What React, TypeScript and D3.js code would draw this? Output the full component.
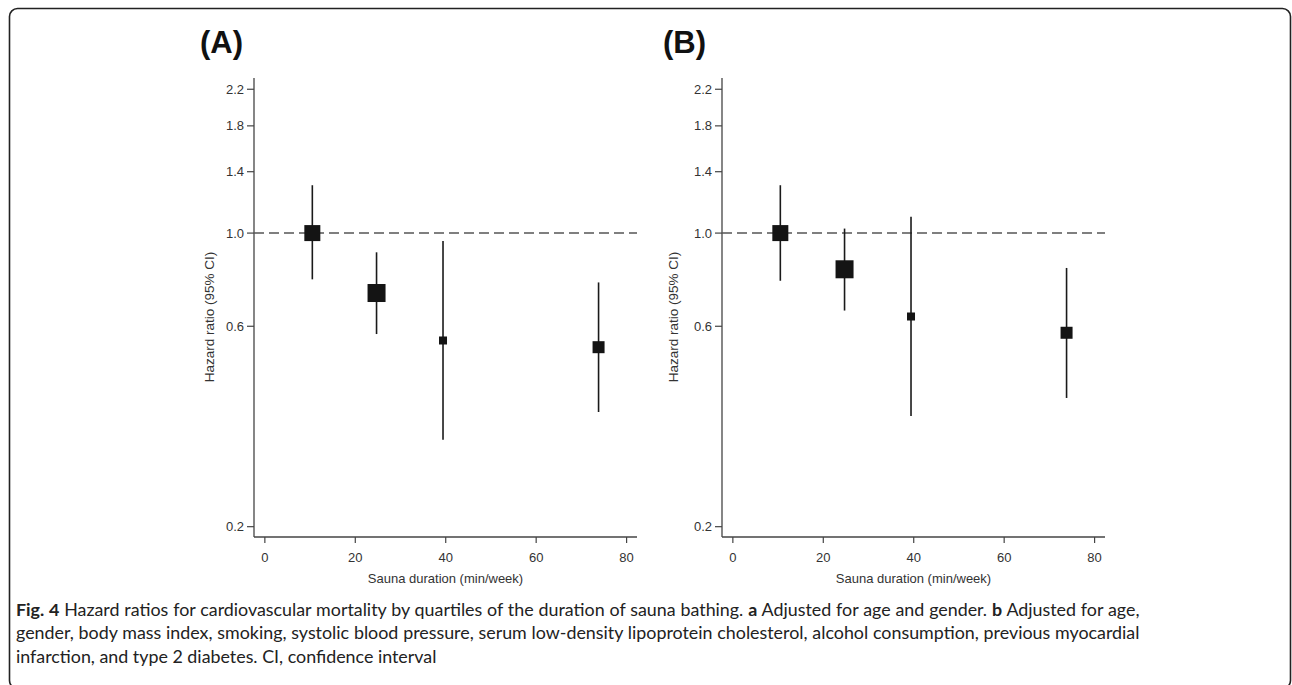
import React, { useLayoutEffect, useRef, useState } from "react";
import * as d3 from "d3";

// ---- Data ----
const durations = [10.5, 24.7, 39.4, 73.8]; // min/week (quartile medians)
const hrA = [1.0, 0.72, 0.555, 0.535];
const lowA = [0.776, 0.575, 0.322, 0.375];
const highA = [1.3, 0.9, 0.958, 0.763];
const hrB = [1.0, 0.82, 0.633, 0.579];
const lowB = [0.77, 0.654, 0.367, 0.405];
const highB = [1.3, 1.025, 1.093, 0.826];
const weights = [16, 18, 8, 12]; // relative marker weights
const yTicks = [0.2, 0.6, 1.0, 1.4, 1.8, 2.2];
const xTicks = [0, 20, 40, 60, 80];
const panelLabels = ["(A)", "(B)"];
const captionLines = [
  [
    { t: "Fig. 4", b: true },
    { t: " Hazard ratios for cardiovascular mortality by quartiles of the duration of sauna bathing. ", b: false },
    { t: "a", b: true },
    { t: " Adjusted for age and gender. ", b: false },
    { t: "b", b: true },
    { t: " Adjusted for age,", b: false },
  ],
  [
    { t: "gender, body mass index, smoking, systolic blood pressure, serum low-density lipoprotein cholesterol, alcohol consumption, previous myocardial", b: false },
  ],
  [{ t: "infarction, and type 2 diabetes. CI, confidence interval", b: false }],
];
const captionWidth = 1124;
const captionJustified = [true, true, false];

const W = 1292;
const H = 685;
const axisFont = "Arial, 'Liberation Sans', sans-serif";

type PanelProps = {
  x0: number;
  x1: number;
  labelX: number;
  yLabelX: number;
  label: string;
  hr: number[];
  low: number[];
  high: number[];
};

const yTop = 78;
const yBottom = 537;

function Panel({ x0, x1, labelX, yLabelX, label, hr, low, high }: PanelProps) {
  const x = d3.scaleLinear().domain([-2.4, 82.3]).range([x0, x1]);
  const y = d3.scaleLog().domain([0.189, 2.34]).range([yBottom, yTop]);
  const size = d3.scaleLinear().domain([0, 18]).range([0, 18]);
  const axisColor = "#444";
  return (
    <g>
      <text x={labelX} y={53} fontFamily={axisFont} fontWeight="bold" fontSize={31} fill="#111">
        {label}
      </text>
      <line x1={x0} x2={x0} y1={yTop} y2={yBottom} stroke={axisColor} strokeWidth={1.3} />
      {yTicks.map((t) => (
        <g key={t}>
          <line x1={x0 - 7} x2={x0} y1={y(t)} y2={y(t)} stroke={axisColor} strokeWidth={1.2} />
          <text x={x0 - 10} y={y(t)} dy="0.35em" textAnchor="end" fontFamily={axisFont} fontSize={13} fill="#333">
            {t.toFixed(1)}
          </text>
        </g>
      ))}
      <text
        transform={`translate(${yLabelX},${317}) rotate(-90)`}
        textAnchor="middle"
        dy="0.35em"
        fontFamily={axisFont}
        fontSize={13.5}
        fill="#333"
      >
        Hazard ratio (95% CI)
      </text>
      <line x1={x0} x2={x1} y1={yBottom} y2={yBottom} stroke={axisColor} strokeWidth={1.3} />
      {xTicks.map((t) => (
        <g key={t}>
          <line x1={x(t)} x2={x(t)} y1={yBottom} y2={yBottom + 6} stroke={axisColor} strokeWidth={1.2} />
          <text x={x(t)} y={yBottom + 20} dy="0.35em" textAnchor="middle" fontFamily={axisFont} fontSize={13} fill="#333">
            {t}
          </text>
        </g>
      ))}
      <text x={(x0 + x1) / 2} y={578} dy="0.35em" textAnchor="middle" fontFamily={axisFont} fontSize={13} fill="#333">
        Sauna duration (min/week)
      </text>
      <line x1={x0} x2={x1} y1={y(1)} y2={y(1)} stroke="#555" strokeWidth={1.5} strokeDasharray="10,5" />
      {durations.map((d, i) => {
        const s = size(weights[i]);
        return (
          <g key={i}>
            <line x1={x(d)} x2={x(d)} y1={y(low[i])} y2={y(high[i])} stroke="#1a1a1a" strokeWidth={1.6} />
            <rect x={x(d) - s / 2} y={y(hr[i]) - s / 2} width={s} height={s} fill="#141414" />
          </g>
        );
      })}
    </g>
  );
}

function Caption() {
  const refs = useRef<(SVGTextElement | null)[]>([]);
  const [layout, setLayout] = useState<{ sx: number; ws: number[] }>({ sx: 1, ws: [0, 0, 0] });
  useLayoutEffect(() => {
    const nat = refs.current.map((el) => (el ? el.getComputedTextLength() : 0));
    if (!nat[0]) return;
    // horizontal glyph scale so the first line fits the justified width
    const sx = Math.min(1.05, captionWidth / nat[0]);
    const ws = captionLines.map((line, i) => {
      if (!captionJustified[i]) return 0;
      const txt = line.map((s) => s.t).join("");
      const spaces = (txt.match(/ /g) || []).length;
      return (captionWidth / sx - nat[i]) / spaces;
    });
    setLayout({ sx, ws });
  }, []);
  const capFont = "Lato, 'Open Sans', sans-serif";
  return (
    <g transform={`translate(16,0) scale(${layout.sx},1)`}>
      {captionLines.map((line, li) => (
        <text
          key={li}
          ref={(el) => {
            refs.current[li] = el;
          }}
          x={0}
          y={616 + li * 23.5}
          fontFamily={capFont}
          fontSize={17}
          fill="#222"
          style={{ wordSpacing: `${layout.ws[li]}px` }}
        >
          {line.map((seg, si) => (
            <tspan key={si} fontWeight={seg.b ? "bold" : "normal"}>
              {seg.t}
            </tspan>
          ))}
        </text>
      ))}
    </g>
  );
}

export default function App() {
  return (
    <svg width={W} height={H} viewBox={`0 0 ${W} ${H}`} style={{ position: "absolute", left: 0, top: 0, background: "#fff" }}>
      <rect x={0} y={0} width={W} height={H} fill="#fff" />
      <rect x={9.5} y={8.5} width={1281} height={680} rx={8} ry={8} fill="none" stroke="#222" strokeWidth={1.6} />
      <Panel x0={254} x1={637} labelX={200} yLabelX={209} label={panelLabels[0]} hr={hrA} low={lowA} high={highA} />
      <Panel x0={722} x1={1105} labelX={663} yLabelX={673} label={panelLabels[1]} hr={hrB} low={lowB} high={highB} />
      <Caption />
    </svg>
  );
}
